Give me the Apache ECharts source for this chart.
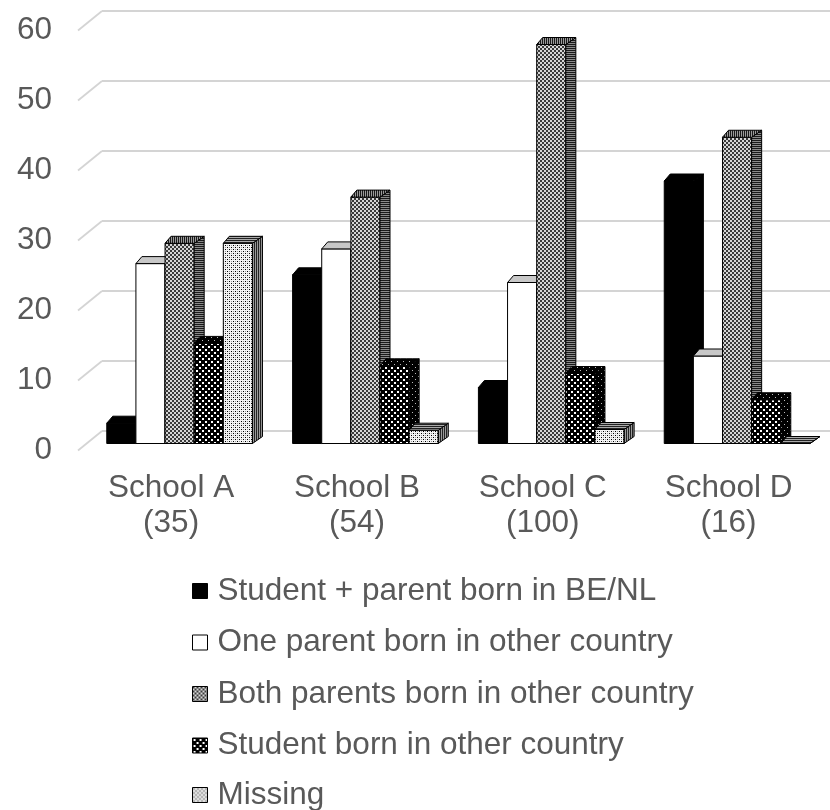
<!DOCTYPE html>
<html><head><meta charset="utf-8">
<script src="https://cdn.jsdelivr.net/npm/echarts@6/dist/echarts.min.js"></script>
<style>html,body{margin:0;padding:0;background:#fff}#c{width:830px;height:810px}</style>
</head><body><div id="c"></div>
<script>
// ---- data ----
const categories = ['School A\n(35)', 'School B\n(54)', 'School C\n(100)', 'School D\n(16)'];
const seriesNames = ['Student + parent born in BE/NL', 'One parent born in other country', 'Both parents born in other country', 'Student born in other country', 'Missing'];
const bornBENL = [2.9, 24.1, 8, 37.5];
const oneParentOther = [25.7, 27.8, 23, 12.5];
const bothParentsOther = [28.6, 35.2, 57, 43.75];
const studentOther = [14.3, 11.1, 10, 6.25];
const missing = [28.6, 1.9, 2, 0];
const yTicks = [0, 10, 20, 30, 40, 50, 60];
const seriesValues = [bornBENL, oneParentOther, bothParentsOther, studentOther, missing];

// ---- patterns ----
function pat(w, h, draw) {
  const c = document.createElement('canvas'); c.width = w; c.height = h;
  const g = c.getContext('2d'); draw(g); return { image: c, repeat: 'repeat' };
}
const grayFront = pat(4, 4, g => { g.fillStyle = '#d6d6d6'; g.fillRect(0,0,4,4); g.fillStyle = '#3a3a3a'; g.fillRect(0,0,2,2); g.fillRect(2,2,2,2); });
const graySide = pat(4, 2, g => { g.fillStyle = '#8a8a8a'; g.fillRect(0,0,4,2); g.fillStyle = '#1a1a1a'; g.fillRect(0,0,4,1); });
const grayTop = pat(2, 4, g => { g.fillStyle = '#9a9a9a'; g.fillRect(0,0,2,4); g.fillStyle = '#1a1a1a'; g.fillRect(0,0,1,4); });
const dotsFront = pat(6, 6, g => { g.fillStyle = '#000'; g.fillRect(0,0,6,6); g.fillStyle = '#fff'; g.fillRect(1,1,2,2); g.fillRect(4,4,2,2); });
const dotsSide = pat(6, 6, g => { g.fillStyle = '#000'; g.fillRect(0,0,6,6); g.fillStyle = '#bbb'; g.fillRect(1,1,1,1); g.fillRect(4,4,1,1); });
const missFront = pat(4, 4, g => { g.fillStyle = '#f4f4f4'; g.fillRect(0,0,4,4); g.fillStyle = '#000'; g.fillRect(1,1,1,1); g.fillRect(3,3,1,1); g.fillStyle = '#999'; g.fillRect(1,3,1,1); g.fillRect(3,1,1,1); });
const missSide = pat(2, 3, g => { g.fillStyle = '#9a9a9a'; g.fillRect(0,0,2,3); g.fillStyle = '#222'; g.fillRect(0,0,1,3); });
const missTop = pat(3, 2, g => { g.fillStyle = '#aaa'; g.fillRect(0,0,3,2); g.fillStyle = '#222'; g.fillRect(0,0,3,1); });

const faceStyles = [
  { front: '#000', top: '#000', side: '#000' },
  { front: '#fff', top: '#c8c8c8', side: '#909090' },
  { front: grayFront, top: grayTop, side: graySide },
  { front: dotsFront, top: dotsSide, side: dotsSide },
  { front: missFront, top: missTop, side: missSide }
];

const GROUP_FRAC = 0.784;
function barRenderer(idx) {
  const st = faceStyles[idx];
  return function (params, api) {
    const cat = api.value(0), val = api.value(1);
    const top = api.coord([cat, val]);
    const base = api.coord([cat, 0]);
    const band = api.size([1, 0])[0];
    const groupW = band * GROUP_FRAC;
    const w = groupW / seriesNames.length;
    const x0 = top[0] - groupW / 2 + idx * w, x1 = x0 + w;
    const yT = top[1], yB = base[1];
    const dl = 6, dr = 10, dy = 7;
    const s = { stroke: '#000', lineWidth: 1, lineJoin: 'round' };
    return { type: 'group', children: [
      { type: 'polygon', shape: { points: [[x0, yB], [x1, yB], [x1, yT], [x0, yT]] }, style: Object.assign({ fill: st.front }, s) },
      { type: 'polygon', shape: { points: [[x1, yB], [x1 + dr, yB - dy], [x1 + dr, yT - dy], [x1, yT]] }, style: Object.assign({ fill: st.side }, s) },
      { type: 'polygon', shape: { points: [[x0, yT], [x1, yT], [x1 + dr, yT - dy], [x0 + dl, yT - dy]] }, style: Object.assign({ fill: st.top }, s) }
    ] };
  };
}

const wallSeries = {
  type: 'custom', silent: true, z: 1,
  xAxisIndex: 0, yAxisIndex: 0,
  data: yTicks.map(v => [0, v]),
  encode: { x: 0, y: 1 },
  renderItem: function (params, api) {
    const p = api.coord([0, api.value(1)]);
    const cs = params.coordSys;
    const y = p[1], xl = cs.x;
    const ls = { stroke: '#d4d4d4', lineWidth: 1.8 };
    return { type: 'group', children: [
      { type: 'line', shape: { x1: xl - 8.7, y1: y + 7, x2: xl + 15.3, y2: y - 12.5 }, style: ls },
      { type: 'line', shape: { x1: xl + 15.3, y1: y - 12.5, x2: cs.x + cs.width, y2: y - 12.5 }, style: ls }
    ] };
  }
};

const barSeries = seriesNames.map((name, i) => ({
  name: name, type: 'custom', z: 2,
  xAxisIndex: 0, yAxisIndex: 0,
  itemStyle: { color: faceStyles[i].front, borderColor: '#000', borderWidth: 1 },
  data: seriesValues[i].map((v, k) => [k, v]),
  encode: { x: 0, y: 1 },
  renderItem: barRenderer(i)
}));

function legendBlock(names, top) {
  return {
    orient: 'vertical', left: 192, top: top, padding: 0,
    itemWidth: 15, itemHeight: 15, itemGap: 19.5, icon: 'rect',
    textStyle: { fontSize: 31.5, color: '#595959', padding: [0, 0, 0, 5] },
    data: names.map(n => {
      const i = seriesNames.indexOf(n);
      return { name: n, icon: 'rect', itemStyle: { color: faceStyles[i].front, borderColor: '#000', borderWidth: 1 } };
    })
  };
}

const chart = echarts.init(document.getElementById('c'), null, { renderer: 'canvas' });
chart.setOption({
  animation: false,
  backgroundColor: '#fff',
  textStyle: { fontFamily: 'Liberation Sans, Arial, sans-serif' },
  grid: [
    { left: 86.7, top: 23.5, width: 746.7, height: 420, containLabel: false },
    { left: 86.7, top: 30.5, width: 746.7, height: 420, containLabel: false }
  ],
  xAxis: [{
    type: 'category', data: categories, gridIndex: 0,
    axisLine: { show: false }, axisTick: { show: false }, splitLine: { show: false },
    axisLabel: { fontSize: 31.5, color: '#595959', lineHeight: 35, margin: 27, padding: [0, 17, 0, 0], interval: 0 }
  }, {
    type: 'category', data: categories, gridIndex: 1, show: false
  }],
  yAxis: [{
    type: 'value', min: 0, max: 60, interval: 10, gridIndex: 0,
    axisLine: { show: false }, axisTick: { show: false }, splitLine: { show: false },
    axisLabel: { show: false }
  }, {
    type: 'value', min: 0, max: 60, interval: 10, gridIndex: 1,
    axisLine: { show: false }, axisTick: { show: false }, splitLine: { show: false },
    axisLabel: { fontSize: 31.5, color: '#595959', margin: 34.7 }
  }],
  legend: [
    legendBlock(seriesNames.slice(0, 4), 575),
    legendBlock(seriesNames.slice(4), 779)
  ],
  series: [wallSeries].concat(barSeries)
});
</script>
</body></html>
